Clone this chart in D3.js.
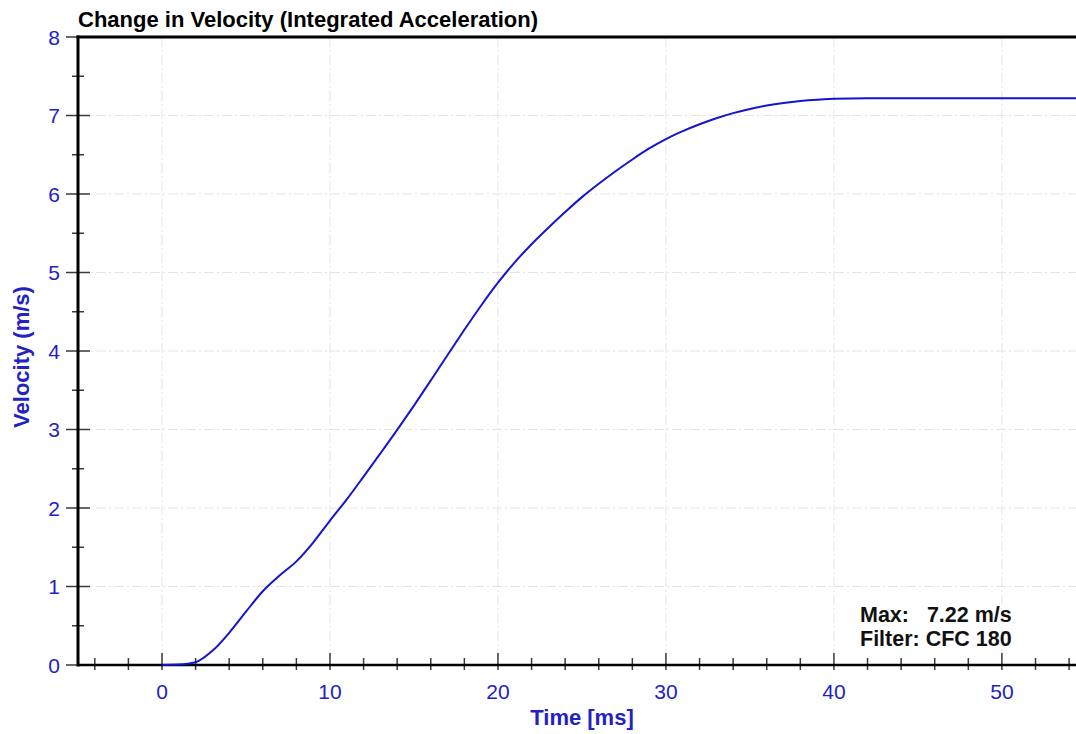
<!DOCTYPE html>
<html>
<head>
<meta charset="utf-8">
<script src="https://cdn.jsdelivr.net/npm/d3@7"></script>
<style>
  body { margin: 0; background: #fff; }
  svg { display: block; font-family: "Liberation Sans", Arial, sans-serif; }
</style>
</head>
<body>
<svg id="chart" width="1076" height="734"></svg>
<script>
// time [ms] and integrated velocity [m/s]
const timeMs = [0, 1, 2, 3, 4, 5, 6, 7, 8, 9, 10, 11, 12, 13, 14, 15, 16, 17, 18, 19, 20,
  21, 22, 23, 24, 25, 26, 27, 28, 29, 30, 31, 32, 33, 34, 35, 36, 37, 38, 39, 40, 41, 42,
  44, 46, 48, 50, 52, 54, 55];
const velocity = [0, 0.005, 0.035, 0.18, 0.41, 0.68, 0.94, 1.14, 1.32, 1.56, 1.84, 2.11, 2.40,
  2.695, 2.995, 3.305, 3.625, 3.95, 4.27, 4.58, 4.87, 5.13, 5.36, 5.57, 5.77, 5.96, 6.13, 6.29,
  6.44, 6.58, 6.70, 6.80, 6.888, 6.965, 7.03, 7.084, 7.127, 7.16, 7.185, 7.202, 7.212, 7.218,
  7.22, 7.22, 7.22, 7.22, 7.22, 7.22, 7.22, 7.22];

const xMajor = [0, 10, 20, 30, 40, 50];
const yMajor = [0, 1, 2, 3, 4, 5, 6, 7, 8];

const titleText = "Change in Velocity (Integrated Acceleration)";
const xTitle = "Time [ms]";
const yTitle = "Velocity (m/s)";
const notes = ["Max:   7.22 m/s", "Filter: CFC 180"];

const blue = "#2222c4";
const lineBlue = "#1414d2";

let svg = d3.select("#chart");

let canvas = {
  "left": 78,
  "right": 1077,
  "top": 37,
  "bottom": 665
};

let x = d3.scaleLinear().domain([-5, 54.47]).range([canvas.left, canvas.right]);
let y = d3.scaleLinear().domain([0, 8]).range([canvas.bottom, canvas.top]);

let data = timeMs.map((t, i) => ({t: t, v: velocity[i]}));

// grid
let grid = svg.append("g").attr("stroke", "#e4e4e4").attr("stroke-width", 1)
  .attr("stroke-dasharray", "10,3,2,3");

grid.selectAll(".gx")
  .data(xMajor)
  .join("line")
  .attr("x1", d => x(d)).attr("x2", d => x(d))
  .attr("y1", canvas.top).attr("y2", canvas.bottom);

grid.selectAll(".gy")
  .data(yMajor.filter(d => d > 0 && d < 8))
  .join("line")
  .attr("x1", canvas.left).attr("x2", canvas.right)
  .attr("y1", d => y(d)).attr("y2", d => y(d));

// minor / major ticks
let yMinor = d3.range(0.5, 8, 1);
let xMinor = d3.range(-4, 55, 2).filter(d => d % 10 !== 0);

let ticks = svg.append("g").attr("stroke", "#3a3a3a").attr("stroke-width", 1.5);

ticks.selectAll(".ym")
  .data(yMajor)
  .join("line")
  .attr("x1", canvas.left - 12).attr("x2", canvas.left + 12)
  .attr("y1", d => y(d)).attr("y2", d => y(d));

ticks.selectAll(".yn")
  .data(yMinor)
  .join("line")
  .attr("x1", canvas.left - 6).attr("x2", canvas.left + 6)
  .attr("y1", d => y(d)).attr("y2", d => y(d));

ticks.selectAll(".xm")
  .data(xMajor)
  .join("line")
  .attr("x1", d => x(d)).attr("x2", d => x(d))
  .attr("y1", canvas.bottom - 12).attr("y2", canvas.bottom + 5);

ticks.selectAll(".xn")
  .data(xMinor)
  .join("line")
  .attr("x1", d => x(d)).attr("x2", d => x(d))
  .attr("y1", canvas.bottom - 7).attr("y2", canvas.bottom + 5);

// tick labels
svg.append("g")
  .selectAll("text")
  .data(yMajor)
  .join("text")
  .attr("x", canvas.left - 18)
  .attr("y", d => y(d) + 7.5)
  .attr("text-anchor", "end")
  .attr("font-size", "21px")
  .attr("fill", blue)
  .text(d => d);

svg.append("g")
  .selectAll("text")
  .data(xMajor)
  .join("text")
  .attr("x", d => x(d))
  .attr("y", canvas.bottom + 34)
  .attr("text-anchor", "middle")
  .attr("font-size", "21px")
  .attr("fill", blue)
  .text(d => d);

// axis frame
svg.append("line")
  .attr("x1", canvas.left).attr("x2", canvas.left)
  .attr("y1", canvas.top - 1.5).attr("y2", canvas.bottom + 1.5)
  .attr("stroke", "#000").attr("stroke-width", 3);

svg.append("line")
  .attr("x1", canvas.left).attr("x2", canvas.right)
  .attr("y1", canvas.bottom).attr("y2", canvas.bottom)
  .attr("stroke", "#000").attr("stroke-width", 2.5);

svg.append("line")
  .attr("x1", canvas.left - 1.5).attr("x2", canvas.right)
  .attr("y1", canvas.top).attr("y2", canvas.top)
  .attr("stroke", "#000").attr("stroke-width", 3);

// velocity curve
let line = d3.line()
  .x(d => x(d.t))
  .y(d => y(d.v))
  .curve(d3.curveMonotoneX);

svg.append("path")
  .datum(data)
  .attr("fill", "none")
  .attr("stroke", lineBlue)
  .attr("stroke-width", 2)
  .attr("d", line);

// titles
svg.append("text")
  .attr("x", canvas.left)
  .attr("y", 27)
  .attr("font-size", "22px")
  .attr("font-weight", "bold")
  .attr("fill", "#000")
  .text(titleText);

svg.append("text")
  .attr("x", 582)
  .attr("y", 725)
  .attr("text-anchor", "middle")
  .attr("font-size", "22px")
  .attr("font-weight", "bold")
  .attr("fill", blue)
  .text(xTitle);

svg.append("text")
  .attr("transform", `translate(29, ${(canvas.top + canvas.bottom) / 2 + 6}) rotate(-90)`)
  .attr("text-anchor", "middle")
  .attr("font-size", "22px")
  .attr("font-weight", "bold")
  .attr("fill", blue)
  .text(yTitle);

svg.append("g")
  .selectAll("text")
  .data(notes)
  .join("text")
  .attr("x", 860)
  .attr("y", (d, i) => 622 + i * 24)
  .attr("font-size", "21.5px")
  .attr("font-weight", "bold")
  .attr("fill", "#111")
  .attr("xml:space", "preserve")
  .style("white-space", "pre")
  .text(d => d);
</script>
</body>
</html>
